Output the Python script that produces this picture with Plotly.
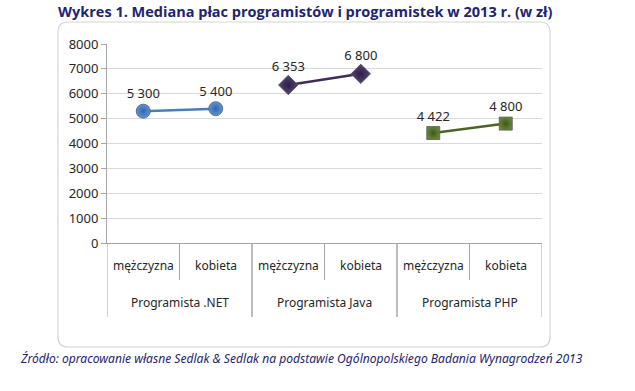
import plotly.graph_objects as go

groups = ["Programista .NET", "Programista Java", "Programista PHP"]
genders = ["mężczyzna", "kobieta"]
net_vals = [5300, 5400]
java_vals = [6353, 6800]
php_vals = [4422, 4800]
values = [net_vals, java_vals, php_vals]

title = "Wykres 1. Mediana płac programistów i programistek w 2013 r. (w zł)"
source = "Źródło: opracowanie własne Sedlak & Sedlak na podstawie Ogólnopolskiego Badania Wynagrodzeń 2013"

W, H = 635, 391
L, R, T, B = 107, 93, 44, 148
pw, ph = W - L - R, H - T - B

def px(x):
    return (x - L) / pw

def py(y):
    return (H - B - y) / ph

styles = [
    ("circle", "#5E95D8", "#2F66AE", "#4A7EBB", 14),
    ("diamond", "#55447A", "#2E1F42", "#3F2D56", 15),
    ("square", "#66843A", "#3F5818", "#4F6228", 13),
]

ng = len(genders)
fig = go.Figure()
for gi, (g, vals) in enumerate(zip(groups, values)):
    sym, mcol, gcol, lcol, sz = styles[gi]
    xs = [gi * ng + k for k in range(ng)]
    fig.add_trace(go.Scatter(
        x=xs, y=vals,
        mode="lines+markers+text",
        line=dict(color=lcol, width=2.5),
        marker=dict(symbol=sym, size=sz, color=mcol,
                    gradient=dict(type="radial", color=gcol),
                    line=dict(color="#5A5A5A", width=0.8)),
        text=[f"{v:,}".replace(",", " ") for v in vals],
        textposition="top center",
        textfont=dict(family="Noto Sans", size=13, color="#262626"),
        cliponaxis=False,
        showlegend=False,
        name=g,
    ))
    for k, gen in enumerate(genders):
        fig.add_annotation(text=gen, x=gi * ng + k, y=py(265), xref="x", yref="paper",
                           showarrow=False, yanchor="middle",
                           font=dict(family="Noto Sans", size=12, color="#262626"))
    fig.add_annotation(text=g, x=gi * ng + (ng - 1) / 2, y=py(302), xref="x", yref="paper",
                       showarrow=False, yanchor="middle",
                       font=dict(family="Noto Sans", size=12, color="#262626"))
    for k in range(ng + 1):
        xb = gi * ng + k - 0.5
        long = (k == 0 or k == ng)
        fig.add_shape(type="line", xref="x", yref="paper",
                      x0=xb, x1=xb, y0=py(243), y1=py(317 if long else 280),
                      line=dict(color="#A6A6A6", width=1))

x0, x1 = px(58), px(550)
y0, y1 = py(347), py(22)
rx, ry = 10 / pw, 10 / ph
path = (f"M {x0+rx},{y1} L {x1-rx},{y1} Q {x1},{y1} {x1},{y1-ry} "
        f"L {x1},{y0+ry} Q {x1},{y0} {x1-rx},{y0} L {x0+rx},{y0} "
        f"Q {x0},{y0} {x0},{y0+ry} L {x0},{y1-ry} Q {x0},{y1} {x0+rx},{y1} Z")
fig.add_shape(type="path", path=path, xref="paper", yref="paper",
              line=dict(color="#D4D4D4", width=1.2), fillcolor="rgba(0,0,0,0)",
              layer="below")

fig.add_annotation(text=f"<b>{title}</b>", x=px(305), y=py(12), xref="paper", yref="paper",
                   showarrow=False, xanchor="center", yanchor="middle",
                   font=dict(family="Open Sans", size=14.5, color="#1F2470"))
fig.add_annotation(text=f"<i>{source}</i>", x=px(18), y=py(358), xref="paper", yref="paper",
                   showarrow=False, xanchor="left", yanchor="middle",
                   font=dict(family="Noto Sans", size=12.1, color="#1F2470"))

fig.update_layout(
    width=W, height=H,
    margin=dict(l=L, r=R, t=T, b=B),
    paper_bgcolor="white", plot_bgcolor="white",
    font=dict(family="Noto Sans", size=12, color="#262626"),
)
fig.update_xaxes(
    range=[-0.5, len(groups) * ng - 0.5],
    showline=True, linecolor="#A6A6A6", linewidth=1,
    showgrid=False, showticklabels=False, ticks="", zeroline=False,
)
fig.update_yaxes(
    range=[0, 8000], dtick=1000, tickformat="d",
    showgrid=True, gridcolor="#D9D9D9", gridwidth=1,
    showline=True, linecolor="#A6A6A6", linewidth=1,
    ticks="outside", tickcolor="#A6A6A6", ticklen=5,
    zeroline=False,
    tickfont=dict(family="Noto Sans", size=13, color="#262626"),
)

fig.write_html("out.html", config={"displayModeBar": False},
               post_script="document.body.style.margin='0';")
